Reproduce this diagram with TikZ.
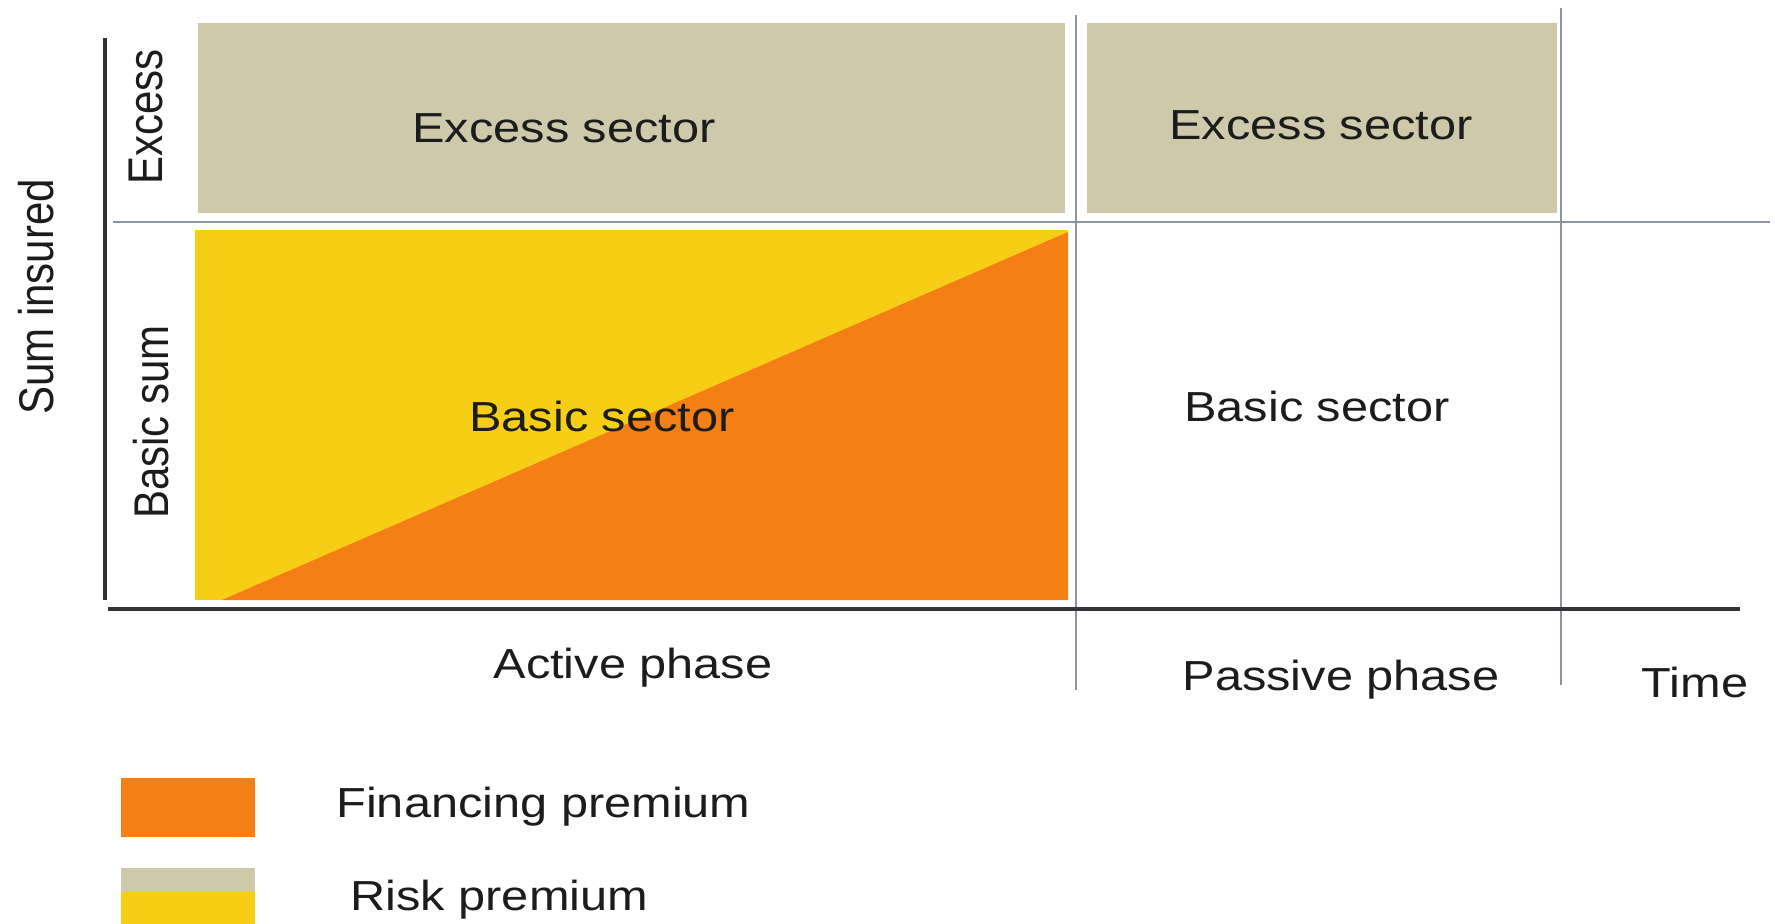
\documentclass[tikz,border=0pt]{standalone}
\usepackage{fontspec}
\setmainfont{Liberation Sans}
\usepackage{graphicx}
\definecolor{sectorgray}{RGB}{207,201,171}
\definecolor{riskyellow}{RGB}{246,206,22}
\definecolor{finorange}{RGB}{244,127,20}
\definecolor{textdark}{RGB}{28,28,28}
\definecolor{axisdark}{RGB}{50,52,56}
\definecolor{gridgray}{RGB}{140,148,160}
\newcommand{\hstretch}[1]{\scalebox{1.16}[1]{#1}}
\newcommand{\vstretch}[1]{\scalebox{1}[1.16]{#1}}
\tikzset{
  lbl/.style={font=\fontsize{21}{25}\selectfont, text=textdark, inner sep=0pt},
  axisline/.style={draw=axisdark, line width=2pt},
  gridline/.style={draw=gridgray, line width=1pt},
}
\begin{document}
\begin{tikzpicture}[x=0.5pt,y=-0.5pt]
\useasboundingbox (0,0) rectangle (1775,924);
% sector blocks
\fill[sectorgray] (198,23) rectangle (1065,213);
\fill[sectorgray] (1087,23) rectangle (1557,213);
\fill[riskyellow] (195,230) rectangle (1068,600);
\fill[finorange] (222,600) -- (1068,232) -- (1068,600) -- cycle;
% grid lines
\coordinate (hL) at (113,222);
\coordinate (hR) at (1770,222);
\coordinate (v1T) at (1076,15);
\coordinate (v1B) at (1076,690);
\coordinate (v2T) at (1561,8);
\coordinate (v2B) at (1561,685);
\draw[gridline] (hL) -- (hR);
\draw[gridline] (v1T) -- (v1B);
\draw[gridline] (v2T) -- (v2B);
% axes
\coordinate (yT) at (105,38);
\coordinate (yB) at (105,600);
\coordinate (xL) at (108,609);
\coordinate (xR) at (1740,609);
\draw[axisline] (yT) -- (yB);
\draw[axisline] (xL) -- (xR);
% rotated labels
\node[lbl, rotate=90, anchor=base] (suminsured) at (53,297) {\vstretch{Sum insured}};
\node[lbl, rotate=90, anchor=base] (excess) at (162,117) {\vstretch{Excess}};
\node[lbl, rotate=90, anchor=base] (basicsum) at (168,422) {\vstretch{Basic sum}};
% sector labels
\node[lbl, anchor=base] (exc1) at (564,143) {\hstretch{Excess sector}};
\node[lbl, anchor=base] (exc2) at (1321,140) {\hstretch{Excess sector}};
\node[lbl, anchor=base] (bas1) at (602,431) {\hstretch{Basic sector}};
\node[lbl, anchor=base] (bas2) at (1317,422) {\hstretch{Basic sector}};
% phase labels
\node[lbl, anchor=base] (active) at (633,678) {\hstretch{Active phase}};
\node[lbl, anchor=base] (passive) at (1341,690) {\hstretch{Passive phase}};
\node[lbl, anchor=base] (time) at (1695,697) {\hstretch{Time}};
% legend
\fill[finorange] (121,778) rectangle (255,837);
\fill[sectorgray] (121,868) rectangle (255,892);
\fill[riskyellow] (121,892) rectangle (255,924);
\node[lbl, anchor=base west] (legfin) at (336,817) {\hstretch{Financing premium}};
\node[lbl, anchor=base west] (legrisk) at (350,910) {\hstretch{Risk premium}};
\end{tikzpicture}
\end{document}
